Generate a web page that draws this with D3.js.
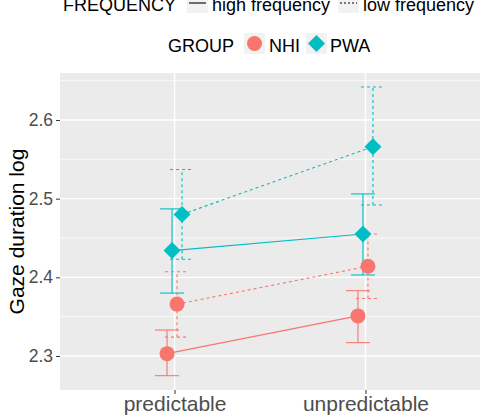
<!DOCTYPE html>
<html>
<head>
<meta charset="utf-8">
<script src="https://cdn.jsdelivr.net/npm/d3@7"></script>
<style>
  body { margin: 0; background: #fff; }
  svg { display: block; font-family: "Liberation Sans", Arial, sans-serif; }
</style>
</head>
<body>
<svg id="chart" width="484" height="420"></svg>
<script>
// data
const conditions = ["predictable", "unpredictable"];
const groups = ["NHI", "PWA"];
const frequencies = ["high frequency", "low frequency"];
const yTicks = [2.3, 2.4, 2.5, 2.6];

// means per series, one value per condition
const nhiHigh = [2.303, 2.351];
const pwaHigh = [2.434, 2.455];
const nhiLow  = [2.366, 2.414];
const pwaLow  = [2.480, 2.566];
// error bar bounds
const nhiHighLo = [2.275, 2.317], nhiHighHi = [2.333, 2.383];
const pwaHighLo = [2.380, 2.403], pwaHighHi = [2.487, 2.506];
const nhiLowLo  = [2.324, 2.373], nhiLowHi  = [2.407, 2.455];
const pwaLowLo  = [2.423, 2.492], pwaLowHi  = [2.537, 2.642];

const series = [
  {group: "NHI", freq: "high frequency", mean: nhiHigh, lo: nhiHighLo, hi: nhiHighHi},
  {group: "PWA", freq: "high frequency", mean: pwaHigh, lo: pwaHighLo, hi: pwaHighHi},
  {group: "NHI", freq: "low frequency",  mean: nhiLow,  lo: nhiLowLo,  hi: nhiLowHi},
  {group: "PWA", freq: "low frequency",  mean: pwaLow,  lo: pwaLowLo,  hi: pwaLowHi}
];

const svg = d3.select("#chart");
const panel = {left: 60, top: 73, right: 480, bottom: 390};

const colour = d3.scaleOrdinal().domain(groups).range(["#F8766D", "#00BFC4"]);
const dash = d3.scaleOrdinal().domain(frequencies).range([null, "3,3"]);

const x = d3.scalePoint().domain(conditions)
  .range([panel.left, panel.right]).padding(0.6);
const dodge = d3.scaleBand().domain(series.map((d, i) => i)).range([-10, 10]);
const y = d3.scaleLinear().domain([2.2568, 2.6597]).range([panel.bottom, panel.top]);

// panel background + grid
svg.append("rect")
  .attr("x", panel.left).attr("y", panel.top)
  .attr("width", panel.right - panel.left).attr("height", panel.bottom - panel.top)
  .attr("fill", "#EBEBEB");

const minor = [2.35, 2.45, 2.55, 2.65];
svg.append("g").selectAll("line").data(minor).join("line")
  .attr("x1", panel.left).attr("x2", panel.right)
  .attr("y1", d => y(d)).attr("y2", d => y(d))
  .attr("stroke", "#fff").attr("stroke-width", 0.7);
svg.append("g").selectAll("line").data(yTicks).join("line")
  .attr("x1", panel.left).attr("x2", panel.right)
  .attr("y1", d => y(d)).attr("y2", d => y(d))
  .attr("stroke", "#fff").attr("stroke-width", 1.4);
svg.append("g").selectAll("line").data(conditions).join("line")
  .attr("x1", d => x(d)).attr("x2", d => x(d))
  .attr("y1", panel.top).attr("y2", panel.bottom)
  .attr("stroke", "#fff").attr("stroke-width", 1.4);

// axes
const yAxis = svg.append("g")
  .attr("transform", `translate(${panel.left},0)`)
  .call(d3.axisLeft(y).tickValues(yTicks).tickSize(4).tickPadding(3).tickFormat(d3.format(".1f")));
yAxis.select(".domain").remove();
yAxis.selectAll(".tick line").attr("stroke", "#333");
yAxis.selectAll(".tick text").attr("fill", "#4D4D4D").style("font-size", "17.5px");

const xAxis = svg.append("g")
  .attr("transform", `translate(0,${panel.bottom})`)
  .call(d3.axisBottom(x).tickSize(4).tickPadding(2));
xAxis.select(".domain").remove();
xAxis.selectAll(".tick line").attr("stroke", "#333");
xAxis.selectAll(".tick text").attr("fill", "#4D4D4D").style("font-size", "21px");

svg.append("text")
  .attr("transform", `translate(24,${(panel.top + panel.bottom) / 2}) rotate(-90)`)
  .attr("text-anchor", "middle")
  .style("font-size", "21px")
  .text("Gaze duration log");

// marks
const marks = svg.append("g");
const capW = 12;

series.forEach((s, i) => {
  const px = c => x(c) + dodge(i) + dodge.bandwidth() / 2;
  const col = colour(s.group);
  const g = marks.append("g").attr("stroke", col).attr("stroke-width", 1.1)
    .attr("stroke-dasharray", dash(s.freq));
  conditions.forEach((c, j) => {
    g.append("line").attr("x1", px(c)).attr("x2", px(c))
      .attr("y1", y(s.lo[j])).attr("y2", y(s.hi[j]));
    g.append("line").attr("x1", px(c) - capW).attr("x2", px(c) + capW)
      .attr("y1", y(s.lo[j])).attr("y2", y(s.lo[j]));
    g.append("line").attr("x1", px(c) - capW).attr("x2", px(c) + capW)
      .attr("y1", y(s.hi[j])).attr("y2", y(s.hi[j]));
  });
});

const line = d3.line();
series.forEach((s, i) => {
  const px = c => x(c) + dodge(i) + dodge.bandwidth() / 2;
  marks.append("path")
    .attr("d", line(conditions.map((c, j) => [px(c), y(s.mean[j])])))
    .attr("fill", "none").attr("stroke", colour(s.group)).attr("stroke-width", 1.1)
    .attr("stroke-dasharray", dash(s.freq));
});

const circleSym = d3.symbol().type(d3.symbolCircle).size(Math.PI * 7.5 * 7.5);
const diamondSym = d3.symbol().type(d3.symbolSquare).size(12 * 12);
series.forEach((s, i) => {
  const px = c => x(c) + dodge(i) + dodge.bandwidth() / 2;
  conditions.forEach((c, j) => {
    const p = marks.append("path").attr("fill", colour(s.group));
    if (s.group === "NHI") {
      p.attr("d", circleSym()).attr("transform", `translate(${px(c)},${y(s.mean[j])})`);
    } else {
      p.attr("d", diamondSym()).attr("transform", `translate(${px(c)},${y(s.mean[j])}) rotate(45)`);
    }
  });
});

// legends
const legFont = "18px";
const l1 = svg.append("g");
l1.append("text").attr("x", 63).attr("y", 11).style("font-size", legFont).text("FREQUENCY");
[[187, 212, "high frequency"], [338, 363, "low frequency"]].forEach(([kx, tx, f]) => {
  l1.append("rect").attr("x", kx).attr("y", -8).attr("width", 21).attr("height", 21).attr("fill", "#F2F2F2");
  l1.append("line").attr("x1", kx + 2).attr("x2", kx + 19).attr("y1", 3).attr("y2", 3)
    .attr("stroke", "#000").attr("stroke-width", 1.1).attr("stroke-dasharray", dash(f) ? "2,2" : null);
  l1.append("text").attr("x", tx).attr("y", 11).style("font-size", legFont).text(f);
});

const l2 = svg.append("g");
l2.append("text").attr("x", 168).attr("y", 52).style("font-size", legFont).text("GROUP");
[[244, 269, "NHI"], [306, 330, "PWA"]].forEach(([kx, tx, gname]) => {
  l2.append("rect").attr("x", kx).attr("y", 33).attr("width", 21).attr("height", 21).attr("fill", "#F2F2F2");
  const p = l2.append("path").attr("fill", colour(gname));
  if (gname === "NHI") p.attr("d", circleSym()).attr("transform", `translate(${kx + 10.5},43.5)`);
  else p.attr("d", diamondSym()).attr("transform", `translate(${kx + 10.5},43.5) rotate(45)`);
  l2.append("text").attr("x", tx).attr("y", 52).style("font-size", legFont).text(gname);
});
</script>
</body>
</html>
